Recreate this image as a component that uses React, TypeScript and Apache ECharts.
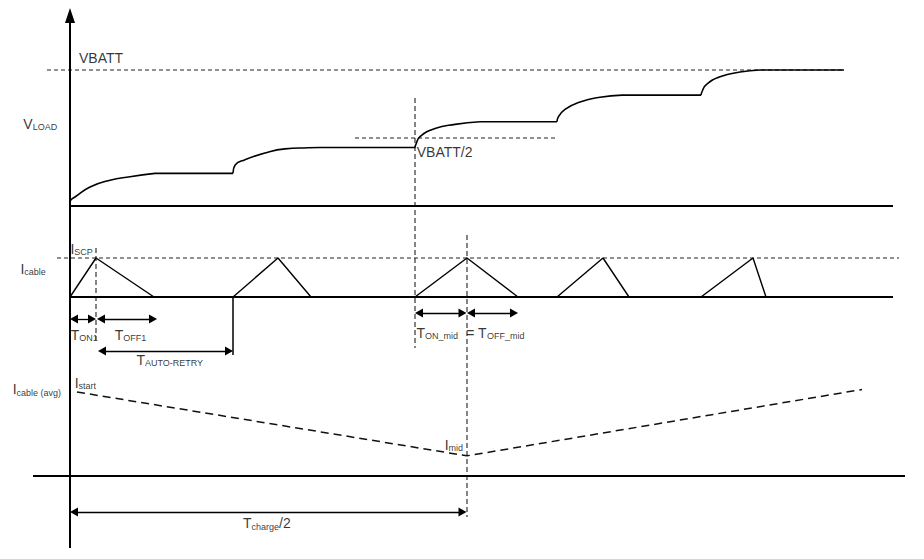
import { useEffect, useRef } from 'react';
import * as echarts from 'echarts';

// ---------------- data (time in arbitrary units, t = 0 at the vertical axis) ----------------
// VLOAD normalised to VBATT: points read along each charging rise [t, V/VBATT]
const vloadRise1 = [[0, 0.02], [1, 0.045], [5, 0.066], [20, 0.14], [40, 0.19], [60, 0.215], [85, 0.24]];
const vloadRise2 = [[163, 0.24], [165, 0.3], [175, 0.34], [195, 0.39], [215, 0.42], [238, 0.428], [250, 0.43]];
const vloadRise3 = [[345, 0.43], [346, 0.455], [350, 0.51], [365, 0.57], [385, 0.6], [410, 0.62]];
const vloadRise4 = [[487, 0.62], [488, 0.65], [495, 0.71], [510, 0.765], [530, 0.8], [552, 0.815]];
const vloadRise5 = [[631, 0.815], [632, 0.84], [636, 0.89], [650, 0.95], [670, 0.985], [690, 1.0]];
const vloadEndTime = 774;
const VBATT = 1;
const VBATT_HALF = 0.5;
const vbattHalfSpan = [285, 485];

// Cable current normalised to ISCP
const icableTimes = [0, 26, 84, 163, 208, 241, 345, 397, 448, 487, 533, 559, 631, 683, 696, 823];
const icableValues = [0, 1, 0, 0, 1, 0, 0, 1, 0, 0, 1, 0, 0, 1, 0, 0];
const ISCP = 1;

// Average cable current normalised to Istart
const iavgTimes = [7, 397, 792];
const iavgValues = [1, 0.24, 1.03];

// Event times
const tOn1 = 26;
const tOff1End = 87;
const tRetry = 163;
const tMidStart = 345;
const tMid = 397;
const tOffMidEnd = 448;
const traceEnd = 823;

// ---------------- layout ----------------
const W = 924;
const H = 559;
const X_MIN = -70;
const X_MAX = 854;
const FONT = "'Liberation Sans', Arial, Helvetica, sans-serif";
const laneVload = { zero: 206, ppu: 136 };
const laneIcable = { zero: 297, ppu: 39 };
const laneIavg = { zero: 476, ppu: 84 };
const ROW_AXIS = 3;

const laneAxis = (l: { zero: number; ppu: number }) => ({
  type: 'value',
  show: false,
  min: -(H - l.zero) / l.ppu,
  max: l.zero / l.ppu,
});

const guides = [
  { t: tOn1, from: 248, to: 340, dashed: true },
  { t: tMidStart, from: 98, to: 348, dashed: true },
  { t: tMid, from: 235, to: 517, dashed: true },
  { t: tRetry, from: 297, to: 355, dashed: false },
];

const arrows = [
  { from: 0, to: tOn1, row: 319 },
  { from: tOn1 + 1, to: tOff1End, row: 319 },
  { from: tOn1 + 2, to: tRetry, row: 351 },
  { from: tMidStart, to: tMid - 0.5, row: 313 },
  { from: tMid, to: tOffMidEnd, row: 313 },
  { from: 0, to: tMid - 0.5, row: 512 },
];

const labels = [
  { t: 9, row: 58.4, text: '{m|VBATT}' },
  { t: -46.7, row: 123.5, text: '{m|V}{s|LOAD}' },
  { t: 346.7, row: 152, text: '{m|VBATT/2}' },
  { t: 0.4, row: 248.5, text: '{m|I}{s|SCP}' },
  { t: -49.6, row: 268.5, text: '{m|I}{s|cable}' },
  { t: 0.7, row: 334.5, text: '{m|T}{s|ON1}' },
  { t: 44.7, row: 334.5, text: '{m|T}{s|OFF1}' },
  { t: 66.4, row: 359.5, text: '{m|T}{s|AUTO-RETRY}' },
  { t: 346.4, row: 332.5, text: '{m|T}{s|ON_mid}' },
  { t: 396.3, row: 332.5, text: '{m|= T}{s|OFF_mid}' },
  { t: -57.3, row: 389, text: '{m|I}{s|cable (avg)}' },
  { t: 4.7, row: 382.5, text: '{m|I}{s|start}' },
  { t: 374.7, row: 444.5, text: '{m|I}{s|mid}' },
  { t: 173, row: 522.8, text: '{m|T}{s|charge}{m|/2}' },
];

const HEAD = 8;

function lineSeries(data: any[], yAxisIndex: number, style: any, extra: any = {}) {
  return {
    type: 'line',
    data,
    xAxisIndex: 0,
    yAxisIndex,
    symbol: 'none',
    silent: true,
    animation: false,
    emphasis: { disabled: true },
    lineStyle: { color: '#000', width: 1.5, ...style },
    ...extra,
  };
}

export default function App() {
  const ref = useRef<HTMLDivElement>(null);

  useEffect(() => {
    if (!ref.current) return;
    const chart = echarts.init(ref.current, null, { renderer: 'svg' });

    const rises = [vloadRise1, vloadRise2, vloadRise3, vloadRise4, vloadRise5];
    const flats: number[][][] = rises.map((r, k) => {
      const last = r[r.length - 1];
      const nextT = k < rises.length - 1 ? rises[k + 1][0][0] : vloadEndTime;
      return [[last[0], last[1]], [nextT, last[1]]];
    });

    const dashed = { type: [4, 3], width: 1, color: '#222' };

    const series: any[] = [
      // reference levels
      lineSeries([[-23, VBATT], [vloadEndTime, VBATT]], 0, dashed),
      lineSeries([[vbattHalfSpan[0], VBATT_HALF], [vbattHalfSpan[1], VBATT_HALF]], 0, dashed),
      lineSeries([[-13, ISCP], [829, ISCP]], 1, dashed),
      // guides
      ...guides.map((g) =>
        lineSeries([[g.t, g.from], [g.t, g.to]], ROW_AXIS,
          g.dashed ? { type: [5, 3], width: 1.1, color: '#222' } : { width: 1.5 })
      ),
      // VLOAD
      lineSeries([[0, 0], [traceEnd, 0]], 0, { width: 2 }),
      ...rises.map((r) => lineSeries(r, 0, { width: 1.6 }, { smooth: 0.5 })),
      ...flats.map((f) => lineSeries(f, 0, { width: 1.6 })),
      // Icable
      lineSeries([[0, 0], [traceEnd, 0]], 1, { width: 2 }),
      lineSeries(icableTimes.map((t, i) => [t, icableValues[i]]), 1, { width: 1.4 }),
      // Icable(avg)
      lineSeries([[-37, 0], [835, 0]], 2, { width: 2 }),
      lineSeries(iavgTimes.map((t, i) => [t, iavgValues[i]]), 2, { type: [8, 5], width: 1.5, color: '#111' }),
      // vertical axis + arrows
      lineSeries([[0, 548], [0, 20]], ROW_AXIS, { width: 2 }, {
        color: '#000',
        markLine: {
          silent: true,
          animation: false,
          symbol: ['triangle', 'triangle'],
          symbolSize: [9, HEAD],
          lineStyle: { color: '#000', width: 1.3, type: 'solid' },
          label: { show: false },
          emphasis: { disabled: true },
          data: [
            ...arrows.map((a) => [
              { coord: [a.from + HEAD / 2, a.row] },
              { coord: [a.to - HEAD / 2, a.row] },
            ]),
            [
              { coord: [0, 30], symbol: 'none', lineStyle: { width: 2, color: '#000', type: 'solid' } },
              { coord: [0, 8 + 7.5], symbol: 'triangle', symbolSize: [10, 15] },
            ],
          ],
        },
      }),
      // labels
      {
        type: 'scatter',
        xAxisIndex: 0,
        yAxisIndex: ROW_AXIS,
        symbol: 'circle',
        symbolSize: 0,
        silent: true,
        animation: false,
        itemStyle: { color: 'rgba(0,0,0,0)' },
        emphasis: { disabled: true },
        label: {
          show: true,
          position: 'right',
          distance: 0,
          color: '#000',
          fontFamily: FONT,
          rich: {
            m: { fontSize: 14, lineHeight: 14, fontFamily: FONT, color: '#000' },
            s: { fontSize: 9, lineHeight: 6.5, height: 6.5, verticalAlign: 'bottom', fontFamily: FONT, color: '#000' },
          },
        },
        data: labels.map((l) => ({ value: [l.t, l.row], label: { formatter: l.text } })),
      },
    ];

    chart.setOption({
      animation: false,
      backgroundColor: '#fff',
      grid: { left: 0, right: 0, top: 0, bottom: 0, containLabel: false },
      xAxis: { type: 'value', min: X_MIN, max: X_MAX, show: false },
      yAxis: [
        laneAxis(laneVload),
        laneAxis(laneIcable),
        laneAxis(laneIavg),
        { type: 'value', min: 0, max: H, inverse: true, show: false },
      ],
      series,
    });

    return () => chart.dispose();
  }, []);

  return (
    <div
      ref={ref}
      style={{ position: 'fixed', left: 0, top: 0, width: W, height: H, background: '#fff' }}
    />
  );
}
